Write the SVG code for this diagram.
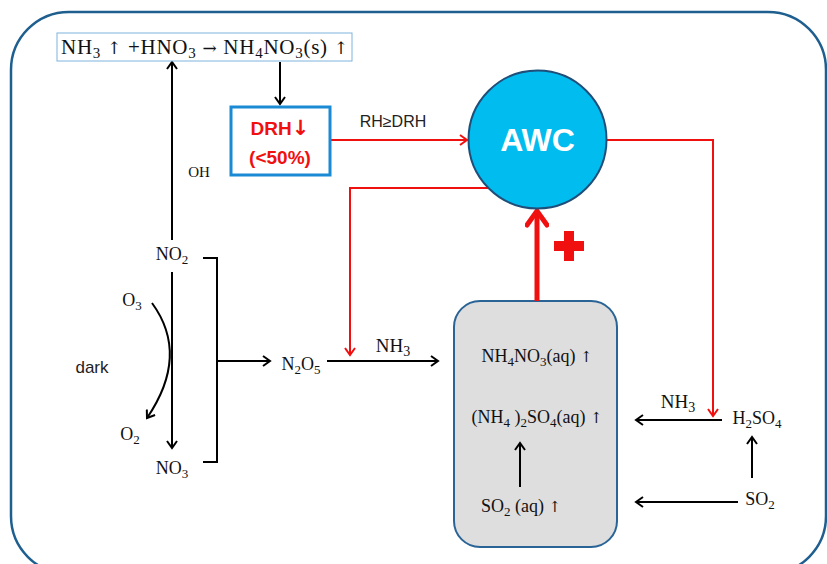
<svg xmlns="http://www.w3.org/2000/svg" width="827" height="564" viewBox="0 0 827 564">
<style>
.chem{font-family:"Liberation Serif","DejaVu Serif",serif;font-size:18px;fill:#111}
.sans{font-family:"Liberation Sans","DejaVu Sans",sans-serif;fill:#222}
.ar{font-family:"DejaVu Serif",serif}
.blk{stroke:#000;stroke-width:2;fill:none}
.red{stroke:#f01010;stroke-width:2;fill:none}
</style>
<defs>
<marker id="ab" markerWidth="12" markerHeight="12" refX="9" refY="6" orient="auto" markerUnits="userSpaceOnUse">
<path d="M2,1 L9,6 L2,11" fill="none" stroke="#000" stroke-width="2"/>
</marker>
<marker id="ar" markerWidth="12" markerHeight="12" refX="9" refY="6" orient="auto" markerUnits="userSpaceOnUse">
<path d="M2,1 L9,6 L2,11" fill="none" stroke="#f01010" stroke-width="2"/>
</marker>
<marker id="arb" markerWidth="24" markerHeight="24" refX="18" refY="12" orient="auto" markerUnits="userSpaceOnUse">
<path d="M4,2 L18,12 L4,22" fill="none" stroke="#f01010" stroke-width="5" stroke-linecap="round"/>
</marker>
</defs>
<rect x="0" y="0" width="827" height="564" fill="#fff"/>
<rect x="11" y="12" width="815" height="562" rx="58" fill="none" stroke="#1f5f8f" stroke-width="2.5"/>

<g id="aqueous">
<rect x="454" y="301" width="163" height="246" rx="26" fill="#dedede" stroke="#2a6496" stroke-width="2"/>
<text class="chem" x="537" y="362" text-anchor="middle">NH<tspan dy="4" font-size="13">4</tspan><tspan dy="-4">NO</tspan><tspan dy="4" font-size="13">3</tspan><tspan dy="-4">(aq) </tspan><tspan class="ar" font-size="15">↑</tspan></text>
<text class="chem" x="537" y="423" text-anchor="middle">(NH<tspan dy="4" font-size="13">4</tspan><tspan dy="-4"> )</tspan><tspan dy="4" font-size="13">2</tspan><tspan dy="-4">SO</tspan><tspan dy="4" font-size="13">4</tspan><tspan dy="-4">(aq) </tspan><tspan class="ar" font-size="15">↑</tspan></text>
<text class="chem" x="521" y="512" text-anchor="middle">SO<tspan dy="4" font-size="13">2</tspan><tspan dy="-4"> (aq) </tspan><tspan class="ar" font-size="15">↑</tspan></text>
</g>

<g id="connectors">
<line class="blk" x1="172" y1="240" x2="172" y2="62" marker-end="url(#ab)"/>
<line class="blk" x1="280" y1="62" x2="280" y2="104" marker-end="url(#ab)"/>
<line class="blk" x1="172" y1="272" x2="172" y2="448" marker-end="url(#ab)"/>
<path class="blk" d="M152,303 Q190,355 147,418" marker-end="url(#ab)"/>
<path class="blk" d="M203,258 L217,258 L217,462 L203,462"/>
<line class="blk" x1="217" y1="361" x2="270" y2="361" marker-end="url(#ab)"/>
<line class="blk" x1="327" y1="361" x2="438" y2="361" marker-end="url(#ab)"/>
<line class="blk" x1="722" y1="420" x2="636" y2="420" marker-end="url(#ab)"/>
<line class="blk" x1="738" y1="502" x2="636" y2="502" marker-end="url(#ab)"/>
<line class="blk" x1="752" y1="478" x2="752" y2="437" marker-end="url(#ab)"/>
<line class="blk" x1="520" y1="487" x2="520" y2="443" marker-end="url(#ab)"/>
<line class="red" x1="331" y1="140" x2="467" y2="140" marker-end="url(#ar)"/>
<path class="red" d="M607,140 L713,140 L713,416" marker-end="url(#ar)"/>
<path class="red" d="M490,188 L350,188 L350,355" marker-end="url(#ar)"/>
<line x1="537" y1="301" x2="537" y2="211" stroke="#f01010" stroke-width="5" marker-end="url(#arb)"/>
</g>

<g id="equation">
<rect x="57" y="33" width="295" height="28" fill="#fff" stroke="#7fb2dc" stroke-width="1"/>
<text class="chem" x="61" y="54" textLength="287" lengthAdjust="spacing" style="font-size:21px">NH<tspan dy="4" font-size="15">3</tspan><tspan dy="-4"> </tspan><tspan class="ar" font-size="17">↑</tspan><tspan> +HNO</tspan><tspan dy="4" font-size="15">3</tspan><tspan dy="-4"> </tspan><tspan class="ar" font-size="17">→</tspan><tspan> NH</tspan><tspan dy="4" font-size="15">4</tspan><tspan dy="-4">NO</tspan><tspan dy="4" font-size="15">3</tspan><tspan dy="-4">(s) </tspan><tspan class="ar" font-size="17">↑</tspan></text>
</g>

<g id="drh">
<rect x="231" y="107" width="99" height="68" fill="#fff" stroke="#1a8ad4" stroke-width="3"/>
<text class="sans" x="280" y="135" text-anchor="middle" style="font-size:19px;font-weight:bold;fill:#f01010">DRH<tspan font-family="DejaVu Sans" font-size="21">↓</tspan></text>
<text class="sans" x="280" y="164" text-anchor="middle" style="font-size:19px;font-weight:bold;fill:#f01010">(&lt;50%)</text>
</g>

<text class="sans" x="393" y="127" text-anchor="middle" style="font-size:16px">RH≥DRH</text>

<g id="awc">
<circle cx="537.5" cy="139.5" r="69" fill="#00bcef" stroke="#1f4e79" stroke-width="2"/>
<text class="sans" x="537.5" y="151" text-anchor="middle" style="font-size:32px;font-weight:bold;fill:#fff">AWC</text>
</g>

<g id="plus">
<rect x="564" y="231" width="10" height="30" fill="#f01010"/>
<rect x="554" y="241" width="30" height="10" fill="#f01010"/>
</g>

<g id="no2"><text class="chem" x="172" y="260" text-anchor="middle">NO<tspan dy="4" font-size="13">2</tspan></text></g>
<g id="no3"><text class="chem" x="172" y="474" text-anchor="middle">NO<tspan dy="4" font-size="13">3</tspan></text></g>
<g id="o3"><text class="chem" x="132" y="306" text-anchor="middle">O<tspan dy="4" font-size="13">3</tspan></text></g>
<g id="o2"><text class="chem" x="130" y="440" text-anchor="middle">O<tspan dy="4" font-size="13">2</tspan></text></g>
<g id="oh"><text class="chem" x="199" y="177" text-anchor="middle" style="font-size:15px">OH</text></g>
<g id="dark"><text class="sans" x="92" y="373" text-anchor="middle" style="font-size:17px">dark</text></g>
<g id="n2o5"><text class="chem" x="301" y="370" text-anchor="middle">N<tspan dy="4" font-size="13">2</tspan><tspan dy="-4">O</tspan><tspan dy="4" font-size="13">5</tspan></text></g>
<g id="nh3a"><text class="chem" x="393" y="352" text-anchor="middle" style="font-size:19px">NH<tspan dy="4" font-size="14">3</tspan></text></g>
<g id="nh3b"><text class="chem" x="678" y="408" text-anchor="middle" style="font-size:19px">NH<tspan dy="4" font-size="14">3</tspan></text></g>
<g id="h2so4"><text class="chem" x="757" y="424" text-anchor="middle">H<tspan dy="4" font-size="13">2</tspan><tspan dy="-4">SO</tspan><tspan dy="4" font-size="13">4</tspan></text></g>
<g id="so2"><text class="chem" x="760" y="505" text-anchor="middle">SO<tspan dy="4" font-size="13">2</tspan></text></g>
</svg>
